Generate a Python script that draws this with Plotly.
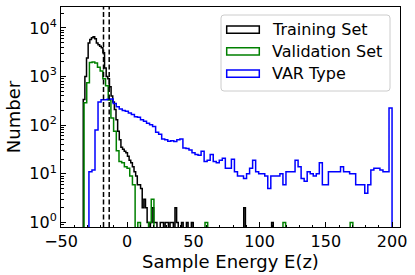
import numpy as np
import plotly.graph_objects as go

# ---------------- data ----------------
series_names = ["Training Set", "Validation Set", "VAR Type"]

TRAIN_START = -33.2
TRAIN_WIDTH = 1.237
train_counts = [336, 1000, 2400, 4900, 5800, 6300, 6600, 6000, 4900, 4500,
                4200, 3900, 3100, 1500, 1000, 900, 620, 400, 300, 210,
                130, 75, 50, 35, 32, 29, 27, 23, 19, 17,
                14, 11, 9, 6, 6, 5, 2, 3, 2, 1,
                0, 1, 2, 1, 1, 0, 0, 1, 1, 0,
                1, 1, 0, 1, 1, 0, 2, 1, 0, 0,
                1, 0, 0, 1, 0, 0, 1, 0, 0, 0,
                0, 0, 0, 0, 0, 0, 0, 0, 0, 0,
                0, 0, 0, 0, 0, 0, 0, 0, 0, 0,
                0, 0, 0, 0, 0, 0, 0, 0, 2, 0,
                0, 0, 0, 0, 0, 0, 0, 0, 0, 0,
                0, 0, 0, 0, 0, 1]

VAL_START = -32.6
VAL_WIDTH = 2.03
val_counts = [290, 750, 1950, 2000, 1900, 1550, 1300, 900, 650, 330,
              140, 75, 30, 18, 17, 14, 13, 9, 6, 0,
              1, 0, 0, 0, 1, 3, 0, 0, 0, 0,
              0, 0, 0, 0, 0, 0, 0, 0, 0, 0,
              0, 0, 0, 0, 0, 1, 0, 0, 0, 0,
              0, 0, 0, 0, 0, 0, 0, 0, 0, 0,
              0, 0, 0, 0, 0, 0, 0, 0, 0, 0,
              0, 0, 0, 0, 1, 0, 0, 0, 0, 0,
              0, 0, 0, 0, 0, 0, 0, 0, 0, 0,
              0, 0, 0, 0, 0, 0, 0, 0, 0, 1]

VAR_START = -28.9
VAR_WIDTH = 2.289
var_counts = [11, 12, 80, 300, 335, 335, 340, 345, 280, 240,
              215, 200, 193, 178, 165, 150, 145, 129, 120, 110,
              102, 94, 72, 65, 52, 50, 47, 48, 46, 50,
              52, 34, 33, 31, 27, 25, 24, 29, 18, 19,
              25, 18, 17, 19, 21, 13, 13, 20, 11, 9,
              9, 8, 10, 13, 19, 11, 10, 10, 9, 5,
              9, 9, 9, 10, 6, 11, 11, 11, 19, 14,
              8, 7, 11, 10, 9, 10, 17, 6, 6, 11,
              11, 11, 11, 14, 11, 11, 10, 10, 6, 6,
              6, 4, 6, 12, 13, 13, 12, 11, 11, 225]

threshold_lines = [-17.9, -13.6]

x_ticks = [-50, 0, 50, 100, 150, 200]
y_ticks = [1, 10, 100, 1000, 10000]
y_tick_labels = ["10<sup>0</sup>", "10<sup>1</sup>", "10<sup>2</sup>",
                 "10<sup>3</sup>", "10<sup>4</sup>"]

colors = ["#000000", "#008000", "#0000ff"]

# ---------------- layout geometry (pixels) ----------------
W, H = 415, 275
L, R, T, B = 61, 15, 7, 48
PW, PH = W - L - R, H - T - B
FONT = "DejaVu Sans"


def px(xp):
    return (xp - L) / PW


def py(yp):
    return 1 - (yp - T) / PH


def step_xy(start, width, counts, floor=1e-2):
    c = np.asarray(counts, dtype=float)
    edges = start + width * np.arange(len(c) + 1)
    c = np.where(c > 0, c, floor)
    xs = np.concatenate([[edges[0]], edges[:-1], [edges[-1], edges[-1]]])
    ys = np.concatenate([[floor], c, [c[-1], floor]])
    return xs, ys


fig = go.Figure()
specs = [(TRAIN_START, TRAIN_WIDTH, train_counts),
         (VAL_START, VAL_WIDTH, val_counts),
         (VAR_START, VAR_WIDTH, var_counts)]
for (s, w, c), name, col in zip(specs, series_names, colors):
    xs, ys = step_xy(s, w, c)
    fig.add_trace(go.Scatter(x=xs, y=ys, mode="lines", name=name,
                             line=dict(color=col, width=1.5, shape="hv"),
                             showlegend=False, hoverinfo="skip"))

shapes = []
for xv in threshold_lines:
    shapes.append(dict(type="line", xref="x", yref="paper", x0=xv, x1=xv,
                       y0=0, y1=1, layer="above",
                       line=dict(color="black", width=1.5, dash="5px,2.5px")))

# legend frame (rounded)
x0, x1, y0, y1, r = 221, 390, 15, 91, 3
path = (f"M {px(x0 + r)},{py(y0)} L {px(x1 - r)},{py(y0)} "
        f"Q {px(x1)},{py(y0)} {px(x1)},{py(y0 + r)} "
        f"L {px(x1)},{py(y1 - r)} Q {px(x1)},{py(y1)} {px(x1 - r)},{py(y1)} "
        f"L {px(x0 + r)},{py(y1)} Q {px(x0)},{py(y1)} {px(x0)},{py(y1 - r)} "
        f"L {px(x0)},{py(y0 + r)} Q {px(x0)},{py(y0)} {px(x0 + r)},{py(y0)} Z")
shapes.append(dict(type="path", xref="paper", yref="paper", path=path,
                   layer="above", fillcolor="rgba(255,255,255,0.8)",
                   line=dict(color="#cccccc", width=1)))

annotations = []
entry_centers = [29.7, 51.3, 73.7]
for name, col, yc in zip(series_names, colors, entry_centers):
    shapes.append(dict(type="rect", xref="paper", yref="paper",
                       x0=px(226.7), x1=px(259.3),
                       y0=py(yc - 3.6), y1=py(yc + 3.6), layer="above",
                       fillcolor="rgba(0,0,0,0)",
                       line=dict(color=col, width=1.5)))
    annotations.append(dict(xref="paper", yref="paper", x=px(270), y=py(yc),
                            xanchor="left", yanchor="middle", text=name,
                            showarrow=False,
                            font=dict(family=FONT, size=16, color="black")))

fig.update_layout(
    width=W, height=H,
    margin=dict(l=L, r=R, t=T, b=B, pad=0),
    paper_bgcolor="white", plot_bgcolor="white",
    font=dict(family=FONT, size=16, color="black"),
    shapes=shapes, annotations=annotations,
    showlegend=False,
)
fig.update_xaxes(
    range=[-50, 206], tickvals=x_ticks, ticks="inside", ticklen=5,
    tickwidth=1, tickcolor="black", showline=True, mirror=True,
    linecolor="black", linewidth=1, showgrid=False, zeroline=False,
    tickfont=dict(family=FONT, size=16, color="black"),
    minor=dict(ticks="inside", ticklen=2.5, dtick=10, tick0=0,
               tickcolor="black", showgrid=False),
    title=dict(text="Sample Energy E(z)", standoff=4,
               font=dict(family=FONT, size=18, color="black")),
)
fig.update_yaxes(
    type="log", range=[-0.093, 4.43], tickvals=y_ticks, ticktext=y_tick_labels,
    ticks="inside", ticklen=5, tickwidth=1, tickcolor="black",
    showline=True, mirror=True, linecolor="black", linewidth=1,
    showgrid=False, zeroline=False,
    tickfont=dict(family=FONT, size=16, color="black"),
    minor=dict(ticks="inside", ticklen=2.5, dtick="D1",
               tickcolor="black", showgrid=False),
    title=dict(text="Number", standoff=4,
               font=dict(family=FONT, size=18, color="black")),
)

fig.write_html("out.html",
               config={"displayModeBar": False, "staticPlot": True},
               post_script="document.body.style.margin='0';"
                           "document.body.style.padding='0';")
